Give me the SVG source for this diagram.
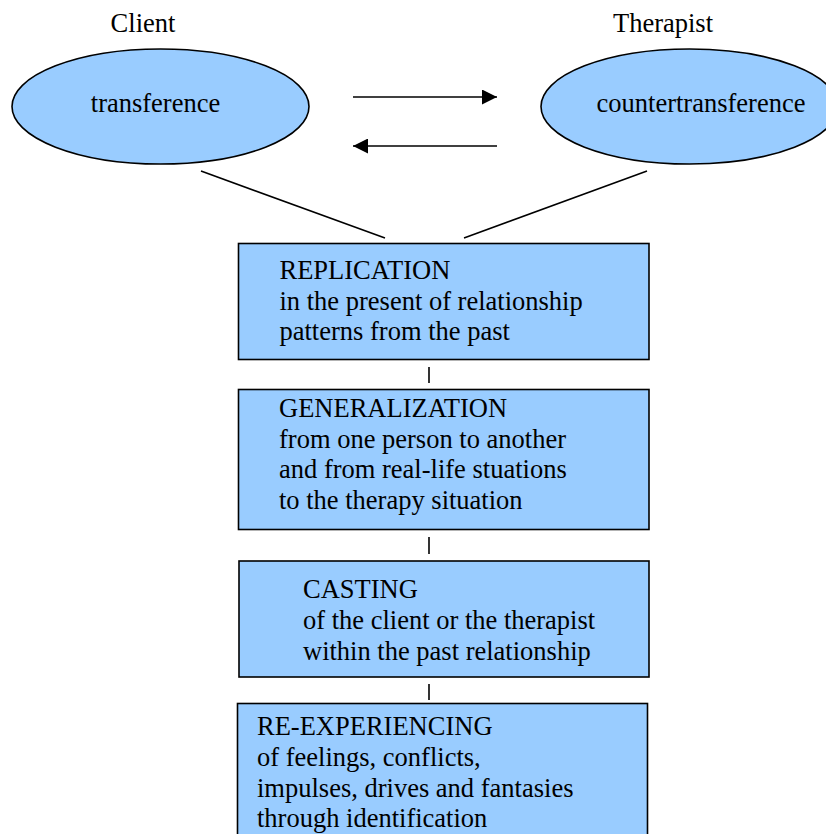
<svg xmlns="http://www.w3.org/2000/svg" width="826" height="834" viewBox="0 0 826 834">
<style>
  .shape { fill: #99ccff; stroke: #000; stroke-width: 1.6; }
  .conn { stroke: #000; stroke-width: 1.6; fill: none; }
  text { font-family: "Liberation Serif", "Times New Roman", serif; font-size: 26.5px; fill: #000; }
  .mid { text-anchor: middle; }
</style>
<defs>
  <marker id="ah" viewBox="0 0 15 15" refX="15" refY="7.5" markerWidth="15" markerHeight="15" markerUnits="userSpaceOnUse" orient="auto">
    <path d="M0,0 L15,7.5 L0,15 Z" fill="#000"/>
  </marker>
</defs>
<rect width="826" height="834" fill="#fff"/>
<g id="labels">
  <text x="143" y="32" class="mid">Client</text>
  <text x="663" y="32" class="mid">Therapist</text>
</g>
<g id="node-transference">
  <ellipse cx="160.5" cy="106.5" rx="148.5" ry="57.5" class="shape"/>
  <text x="155.5" y="112" class="mid">transference</text>
</g>
<g id="node-countertransference">
  <ellipse cx="689.5" cy="106.5" rx="148.5" ry="57.5" class="shape"/>
  <text x="701" y="112" class="mid">countertransference</text>
</g>
<g id="node-replication">
  <rect x="238.5" y="243.5" width="410.5" height="116" class="shape"/>
  <text x="279.5" y="279">REPLICATION</text>
  <text x="279.5" y="309.5">in the present of relationship</text>
  <text x="279.5" y="340">patterns from the past</text>
</g>
<g id="node-generalization">
  <rect x="238.5" y="389.5" width="410.5" height="140" class="shape"/>
  <text x="279" y="417">GENERALIZATION</text>
  <text x="279" y="447.5">from one person to another</text>
  <text x="279" y="478">and from real-life stuations</text>
  <text x="279" y="508.5">to the therapy situation</text>
</g>
<g id="node-casting">
  <rect x="239" y="561" width="410" height="116" class="shape"/>
  <text x="303" y="598">CASTING</text>
  <text x="303" y="629">of the client or the therapist</text>
  <text x="303" y="659.5">within the past relationship</text>
</g>
<g id="node-reexperiencing">
  <rect x="237.5" y="703.5" width="410" height="140" class="shape"/>
  <text x="257" y="735">RE-EXPERIENCING</text>
  <text x="257" y="766">of feelings, conflicts,</text>
  <text x="257" y="797">impulses, drives and fantasies</text>
  <text x="257" y="827">through identification</text>
</g>
<g id="connectors">
  <line x1="353" y1="97" x2="497" y2="97" class="conn" marker-end="url(#ah)"/>
  <line x1="497" y1="146" x2="353" y2="146" class="conn" marker-end="url(#ah)"/>
  <line x1="201" y1="171" x2="385" y2="238" class="conn"/>
  <line x1="647" y1="171" x2="464" y2="238" class="conn"/>
  <line x1="429" y1="367" x2="429" y2="383" class="conn"/>
  <line x1="429" y1="537" x2="429" y2="554" class="conn"/>
  <line x1="429" y1="684" x2="429" y2="700" class="conn"/>
</g>
</svg>
